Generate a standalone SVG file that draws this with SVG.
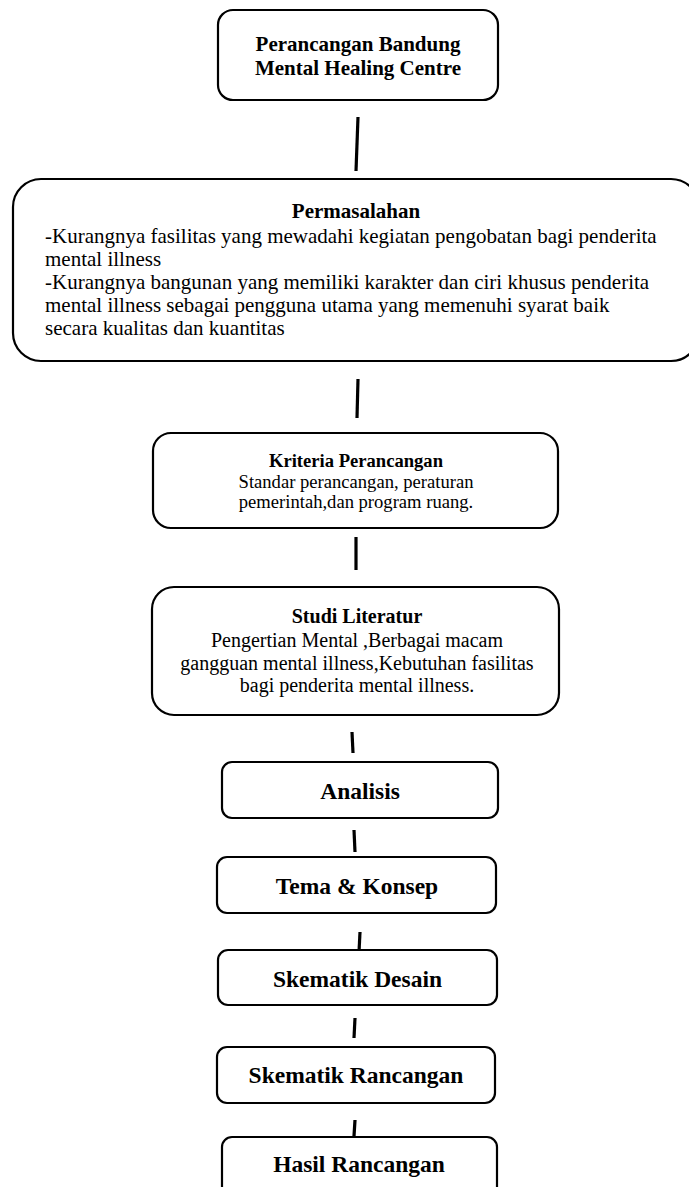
<svg xmlns="http://www.w3.org/2000/svg" width="689" height="1187" viewBox="0 0 689 1187">
<style>
.box{fill:#fff;stroke:#000;stroke-width:2.2}
.t{font-family:"Liberation Serif","Times New Roman",serif;fill:#000}
.b{font-weight:bold}
.c{text-anchor:middle}
.con{stroke:#000;stroke-width:3.2;fill:none}
</style>
<rect width="689" height="1187" fill="#fff"/>
<g id="connectors">
<line class="con" x1="358" y1="117" x2="356" y2="171"/>
<line class="con" x1="358" y1="379" x2="357" y2="418"/>
<line class="con" x1="356" y1="537" x2="356" y2="570"/>
<line class="con" x1="352" y1="732" x2="353" y2="753"/>
<line class="con" x1="354" y1="830" x2="355" y2="852"/>
<line class="con" x1="360" y1="932" x2="359" y2="952"/>
<line class="con" x1="355" y1="1018" x2="354" y2="1038"/>
<line class="con" x1="355" y1="1120" x2="354" y2="1136"/>
</g>
<g id="n1">
<rect class="box" x="218" y="10" width="280" height="90" rx="15"/>
<text class="t b c" font-size="21" x="358" y="51">Perancangan Bandung</text>
<text class="t b c" font-size="21" x="358" y="74.5">Mental Healing Centre</text>
</g>
<g id="n2">
<rect class="box" x="13" y="179" width="686" height="182" rx="28"/>
<text class="t b c" font-size="21" x="356" y="218">Permasalahan</text>
<text class="t" font-size="21" x="45" y="243">-Kurangnya fasilitas yang mewadahi kegiatan pengobatan bagi penderita</text>
<text class="t" font-size="21" x="45" y="266">mental illness</text>
<text class="t" font-size="21" x="45" y="289">-Kurangnya bangunan yang memiliki karakter dan ciri khusus penderita</text>
<text class="t" font-size="21" x="45" y="312">mental illness sebagai pengguna utama yang memenuhi syarat baik</text>
<text class="t" font-size="21" x="45" y="335">secara kualitas dan kuantitas</text>
</g>
<g id="n3">
<rect class="box" x="153" y="433" width="405" height="95" rx="18"/>
<text class="t b c" font-size="18.6" x="356" y="467">Kriteria Perancangan</text>
<text class="t c" font-size="18.6" x="356" y="488">Standar perancangan, peraturan</text>
<text class="t c" font-size="18.6" x="356" y="508">pemerintah,dan program ruang.</text>
</g>
<g id="n4">
<rect class="box" x="152" y="587" width="407" height="128" rx="22"/>
<text class="t b c" font-size="20" x="357" y="623">Studi Literatur</text>
<text class="t c" font-size="20" x="357" y="647">Pengertian Mental ,Berbagai macam</text>
<text class="t c" font-size="20" x="357" y="670">gangguan mental illness,Kebutuhan fasilitas</text>
<text class="t c" font-size="20" x="357" y="692">bagi penderita mental illness.</text>
</g>
<g id="n5">
<rect class="box" x="222" y="762" width="276" height="56" rx="10"/>
<text class="t b c" font-size="23.5" x="360" y="799">Analisis</text>
</g>
<g id="n6">
<rect class="box" x="217" y="857" width="279" height="56" rx="10"/>
<text class="t b c" font-size="23.5" x="357" y="894">Tema &amp; Konsep</text>
</g>
<g id="n7">
<rect class="box" x="218" y="950" width="279" height="55" rx="10"/>
<text class="t b c" font-size="23.5" x="357.5" y="987">Skematik Desain</text>
</g>
<g id="n8">
<rect class="box" x="217" y="1047" width="278" height="56" rx="10"/>
<text class="t b c" font-size="23.5" x="356" y="1083">Skematik Rancangan</text>
</g>
<g id="n9">
<rect class="box" x="222" y="1137" width="275" height="62" rx="10"/>
<text class="t b c" font-size="23.5" x="359" y="1172">Hasil Rancangan</text>
</g>
</svg>
